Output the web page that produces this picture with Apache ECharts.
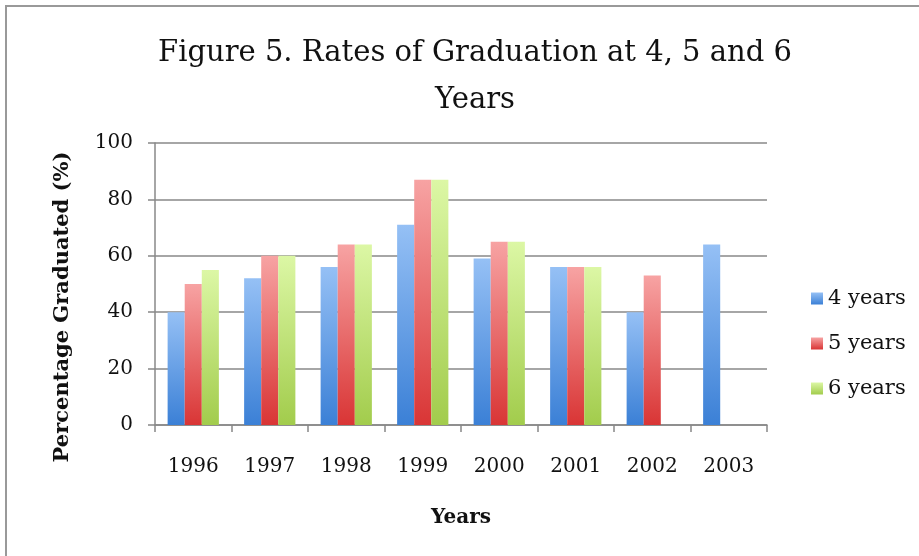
<!DOCTYPE html>
<html lang="en">
<head>
    <meta charset="UTF-8">
    <title>Figure 5. Rates of Graduation</title>
    <script src="https://cdn.jsdelivr.net/npm/echarts@6/dist/echarts.min.js"></script>
    <style>
        html, body { margin: 0; padding: 0; background: #fff; }
    </style>
</head>
<body>
    <div id="myChart" style="width: 919px; height: 556px;"></div>
    <script>
        // data
        var years = ['1996', '1997', '1998', '1999', '2000', '2001', '2002', '2003'];
        var fourYears = [40, 52, 56, 71, 59, 56, 40, 64];
        var fiveYears = [50, 60, 64, 87, 65, 56, 53, null];
        var sixYears = [55, 60, 64, 87, 65, 56, null, null];

        var serif = '"DejaVu Serif", "Liberation Serif", serif';

        function grad(top, bottom) {
            return new echarts.graphic.LinearGradient(0, 0, 0, 1, [
                { offset: 0, color: top },
                { offset: 1, color: bottom }
            ]);
        }

        var myChart = echarts.init(document.getElementById('myChart'));

        var option = {
            backgroundColor: '#fff',
            animation: false,
            title: {
                text: 'Figure 5. Rates of Graduation at 4, 5 and 6\nYears',
                left: 470,
                top: 25,
                textAlign: 'center',
                textStyle: {
                    fontFamily: serif,
                    fontSize: 29,
                    fontWeight: 'normal',
                    color: '#111',
                    lineHeight: 47
                }
            },
            legend: {
                orient: 'vertical',
                left: 806,
                top: 283,
                itemWidth: 12,
                itemHeight: 12,
                itemGap: 24,
                icon: 'rect',
                textStyle: { fontFamily: serif, fontSize: 21, color: '#111' },
                data: ['4 years', '5 years', '6 years']
            },
            graphic: [{
                type: 'rect',
                shape: { x: 6, y: 6, width: 940, height: 560 },
                style: { fill: 'none', stroke: '#999', lineWidth: 2 },
                silent: true
            }],
            grid: { left: 155, right: 152, top: 143, bottom: 131 },
            xAxis: {
                type: 'category',
                data: years,
                name: 'Years',
                nameLocation: 'middle',
                nameGap: 83,
                nameTextStyle: { fontFamily: serif, fontSize: 20, fontWeight: 'bold', color: '#111' },
                axisLine: { lineStyle: { color: '#888', width: 1.5 } },
                axisTick: { show: true, length: 7, lineStyle: { color: '#888', width: 1.5 } },
                axisLabel: { fontFamily: serif, fontSize: 20, color: '#111', margin: 32 }
            },
            yAxis: {
                type: 'value',
                min: 0,
                max: 100,
                interval: 20,
                name: 'Percentage Graduated (%)',
                nameLocation: 'middle',
                nameGap: 82,
                nameTextStyle: {
                    fontFamily: serif, fontSize: 21, fontWeight: 'bold', color: '#111',
                    padding: [0, 46, 0, 0]
                },
                axisLine: { show: true, lineStyle: { color: '#888', width: 1.5 } },
                axisTick: { show: true, length: 7, lineStyle: { color: '#888', width: 1.5 } },
                axisLabel: { fontFamily: serif, fontSize: 20, color: '#111', margin: 22 },
                splitLine: { lineStyle: { color: '#888', width: 1.5 } }
            },
            series: [
                {
                    name: '4 years', type: 'bar', data: fourYears,
                    barGap: '0%', barCategoryGap: '33%',
                    itemStyle: { color: grad('#95c0f5', '#3b80d6') }
                },
                {
                    name: '5 years', type: 'bar', data: fiveYears,
                    barGap: '0%', barCategoryGap: '33%',
                    itemStyle: { color: grad('#f7a3a3', '#d93535') }
                },
                {
                    name: '6 years', type: 'bar', data: sixYears,
                    barGap: '0%', barCategoryGap: '33%',
                    itemStyle: { color: grad('#dcf7a5', '#a2cc4c') }
                }
            ]
        };

        myChart.setOption(option);
    </script>
</body>
</html>
